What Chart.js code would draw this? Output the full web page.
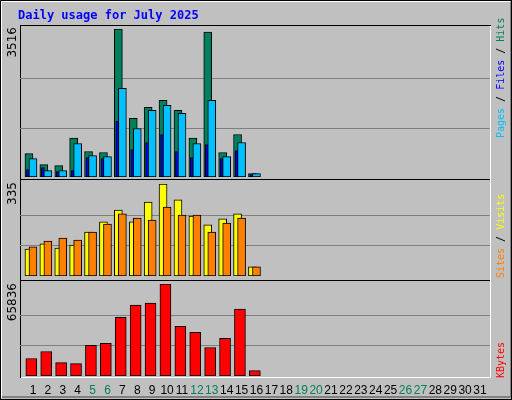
<!DOCTYPE html>
<html><head><meta charset="utf-8">
<script src="https://cdn.jsdelivr.net/npm/chart.js@4/dist/chart.umd.min.js"></script>
<style>
html,body{margin:0;padding:0;background:#c0c0c0;}
#wrap{position:relative;width:512px;height:400px;overflow:hidden;background:#c0c0c0;}
canvas{position:absolute;}
</style></head><body>
<div id="wrap">
<canvas id="bg" width="512" height="400" style="left:0;top:0"></canvas>
<div style="position:absolute;left:20px;top:29px;width:470px;height:148px"><canvas id="c1"></canvas></div>
<div style="position:absolute;left:20px;top:184px;width:470px;height:92px"><canvas id="c2"></canvas></div>
<div style="position:absolute;left:20px;top:284px;width:470px;height:92px"><canvas id="c3"></canvas></div>
</div>
<script>
const days = [1,2,3,4,5,6,7,8,9,10,11,12,13,14,15,16];
const allDays = Array.from({length:31},(_,i)=>i+1);
const weekendDays = [5,6,12,13,19,20,26,27];
const hits  = [557,294,270,923,605,581,3516,1392,1655,1822,1583,923,3444,581,1010,80];
const files = [438,151,151,795,509,485,2108,1153,1583,1702,1511,795,1822,485,819,80];
const pages = [175,223,127,151,461,438,1320,652,819,1010,605,461,772,438,628,56];
const visits= [98,117,102,113,160,197,240,197,269,335,277,218,186,208,226,33];
const sites = [106,127,138,131,160,189,226,211,204,251,222,222,160,193,211,33];
const kbytes= [12494,17540,9611,8890,21865,23306,42047,50697,52140,65836,35560,31235,20423,26910,47813,3844];
const maxHits=3516, maxVisits=335, maxKB=65836;

const pts=(arr,off)=>arr.map((v,i)=>({x:days[i]+off,y:v}));
const gridPlugin={id:'grid',beforeDatasetsDraw(ch){
  const ctx=ch.ctx,a=ch.chartArea,y=ch.scales.y;
  ctx.save();ctx.strokeStyle='#808080';ctx.lineWidth=1;
  [1/3,2/3].forEach(f=>{const py=Math.round(y.getPixelForValue(y.max*f))+0.5;
    ctx.beginPath();ctx.moveTo(a.left,py);ctx.lineTo(a.right,py);ctx.stroke();});
  ctx.restore();}};
function mk(id,max,sets){
  return new Chart(document.getElementById(id),{type:'bar',
    data:{datasets:sets.map(s=>Object.assign({grouped:false,borderColor:'#000',borderWidth:1,borderSkipped:false},s))},
    options:{responsive:true,maintainAspectRatio:false,animation:false,
      layout:{padding:0},plugins:{legend:{display:false},tooltip:{enabled:false}},
      scales:{x:{type:'linear',min:0.13,max:31.67,offset:false,bounds:'ticks',display:false},
              y:{min:0,max:max,display:false}}},
    plugins:[gridPlugin]});
}
mk('c1',maxHits,[
  {data:pts(hits,-0.27),backgroundColor:'#00805c',barThickness:8,order:3},
  {data:pts(pages,-0.34),backgroundColor:'#0000ff',barThickness:3,order:2},
  {data:pts(files,0),backgroundColor:'#00c0ff',barThickness:8,order:1}]);
mk('c2',maxVisits,[
  {data:pts(visits,-0.27),backgroundColor:'#ffff00',barThickness:8,order:2},
  {data:pts(sites,0),backgroundColor:'#ff8000',barThickness:8,order:1}]);
mk('c3',maxKB,[
  {data:pts(kbytes,-0.11),backgroundColor:'#ff0000',barThickness:11,order:1}]);

const c=document.getElementById('bg').getContext('2d');
c.fillStyle='#c0c0c0';c.fillRect(0,0,512,400);
function ln(x1,y1,x2,y2,col){c.strokeStyle=col;c.lineWidth=1;c.beginPath();c.moveTo(x1,y1);c.lineTo(x2,y2);c.stroke();}
ln(0.5,0.5,511.5,0.5,'#000');ln(0.5,0.5,0.5,399.5,'#000');ln(511.5,0,511.5,400,'#000');ln(0,399.5,512,399.5,'#000');
ln(1.5,1.5,510,1.5,'#fff');ln(1.5,1.5,1.5,398,'#fff');
ln(510.5,2,510.5,398,'#808080');ln(2,397.5,510,397.5,'#808080');ln(2,396.5,510,396.5,'#808080');
ln(20.5,25,20.5,378,'#000');ln(20,25.5,491,25.5,'#000');
ln(20,179.5,491,179.5,'#000');ln(20,280.5,491,280.5,'#000');
ln(21,377.5,491,377.5,'#fff');ln(490.5,26,490.5,378,'#fff');
c.font='bold 12px "DejaVu Sans Mono"';c.fillStyle='#0000ff';c.textBaseline='alphabetic';
c.fillText('Daily usage for July 2025',18,19);
c.font='12px "Liberation Sans"';c.textAlign='center';
const xs=d=>20+(d-0.13)*(470/(31.67-0.13));
allDays.forEach(d=>{c.fillStyle=weekendDays.includes(d)?'#00805c':'#000';c.fillText(String(d),xs(d),394);});
function vtext(parts,x,y,font,alignEnd){
  c.save();c.translate(x,y);c.rotate(-Math.PI/2);c.font=font;c.textAlign='left';
  let total=parts.reduce((s,p)=>s+c.measureText(p[0]).width,0);
  let px=alignEnd?-total:0;
  parts.forEach(p=>{c.fillStyle=p[1];c.fillText(p[0],px,0);px+=c.measureText(p[0]).width;});
  c.restore();}
vtext([['3516','#000']],16,27,'12px "DejaVu Sans"',true);
vtext([['335','#000']],16,182,'12px "DejaVu Sans"',true);
vtext([['65836','#000']],16,283,'12px "DejaVu Sans"',true);
const mf='10px "DejaVu Sans Mono"';
vtext([['Pages','#00c0ff'],[' / ','#000'],['Files','#0000ff'],[' / ','#000'],['Hits','#00805c']],504,138,mf,false);
vtext([['Sites','#ff8000'],[' / ','#000'],['Visits','#ffff00']],504,278,mf,false);
vtext([['KBytes','#ff0000']],504,378,mf,false);
</script>
</body></html>
